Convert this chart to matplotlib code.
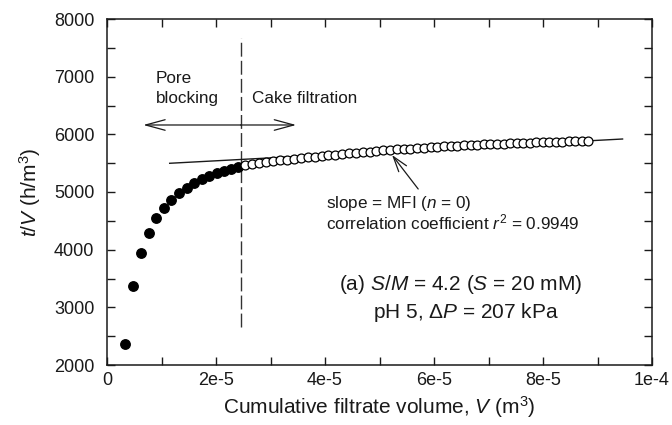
import matplotlib
matplotlib.use("Agg")
import matplotlib.pyplot as plt
from matplotlib.ticker import MultipleLocator, FixedLocator, FixedFormatter

plt.rcParams['font.family'] = ['Liberation Sans', 'DejaVu Sans']
plt.rcParams['mathtext.fontset'] = 'custom'
plt.rcParams['mathtext.rm'] = 'Liberation Sans'
plt.rcParams['mathtext.it'] = 'Liberation Sans:italic'

# Pore blocking region (filled circles), V in 1e-6 m3
pore_v = [3.3, 4.83, 6.18, 7.63, 9.05, 10.46, 11.8, 13.27, 14.6, 16.0,
          17.36, 18.7, 20.1, 21.5, 22.8, 24.1]
pore_tv = [2359, 3370, 3937, 4294, 4549, 4728, 4861, 4978, 5075, 5156,
           5220, 5278, 5324, 5364, 5399, 5439]

# Cake filtration region (open circles)
cake_v = [25.30, 26.59, 27.88, 29.16, 30.45, 31.73, 33.01, 34.28, 35.56, 36.83,
          38.10, 39.37, 40.63, 41.90, 43.16, 44.42, 45.68, 46.93, 48.18, 49.43,
          50.68, 51.93, 53.17, 54.41, 55.65, 56.89, 58.13, 59.36, 60.59, 61.82,
          63.04, 64.27, 65.49, 66.71, 67.93, 69.14, 70.35, 71.56, 72.77, 73.98,
          75.18, 76.39, 77.59, 78.78, 79.98, 81.17, 82.36, 83.55, 84.74, 85.92,
          87.11, 88.29]
cake_tv = [5465, 5485, 5502, 5518, 5533, 5548, 5562, 5575, 5588, 5600,
           5612, 5624, 5636, 5647, 5658, 5669, 5680, 5690, 5700, 5710,
           5720, 5729, 5737, 5746, 5754, 5762, 5769, 5777, 5784, 5790,
           5796, 5802, 5808, 5813, 5819, 5824, 5829, 5834, 5839, 5844,
           5848, 5852, 5856, 5860, 5865, 5868, 5872, 5875, 5879, 5882,
           5885, 5888]

# Linear fit (MFI) line
fit_v = [11.5, 94.6]
fit_tv = [5498, 5919]

# Transition between regimes
transition_v = 24.5

xtick_vals = [0, 2e-5, 4e-5, 6e-5, 8e-5, 1e-4]
xtick_labels = ["0", "2e-5", "4e-5", "6e-5", "8e-5", "1e-4"]
ytick_vals = [2000, 3000, 4000, 5000, 6000, 7000, 8000]

scale = 1e-6
ink = "#1a1a1a"

fig = plt.figure(figsize=(6.72, 4.25), dpi=100)
ax = fig.add_axes([107/672, 1-365/425, (652-107)/672, (365-19)/425])

ax.plot([v*scale for v in fit_v], fit_tv, color=ink, lw=1.0, zorder=2)
ax.plot([v*scale for v in pore_v], pore_tv, 'o', ms=6.8, color='black',
        mec='black', zorder=3)
ax.plot([v*scale for v in cake_v], cake_tv, 'o', ms=6.4, mfc='white',
        mec='black', mew=0.9, zorder=3)

ax.plot([transition_v*scale]*2, [2660, 7670], color='#333333', lw=1.0,
        dashes=(10, 3), zorder=1)

head = '->,head_length=1.4,head_width=0.38'
arrow_kw = dict(arrowstyle=head, color=ink, lw=0.9, mutation_scale=10,
                shrinkA=0, shrinkB=0)
ax.annotate('', xy=(6.66e-6, 6162), xytext=(transition_v*scale, 6162),
            arrowprops=arrow_kw)
ax.annotate('', xy=(34.7e-6, 6162), xytext=(transition_v*scale, 6162),
            arrowprops=arrow_kw)

ax.text(9.0e-6, 6960, "Pore", fontsize=12.3, color=ink, va='center', ha='left')
ax.text(9.0e-6, 6630, "blocking", fontsize=12.3, color=ink, va='center', ha='left')
ax.text(26.55e-6, 6630, "Cake filtration", fontsize=12.3, color=ink,
        va='center', ha='left')

ax.annotate('', xy=(52.3e-6, 5642), xytext=(57.1e-6, 5052),
            arrowprops=dict(arrowstyle='->,head_length=1.1,head_width=0.35',
                            color=ink, lw=0.9, mutation_scale=10,
                            shrinkA=0, shrinkB=0))
ax.text(40.2e-6, 4809, "slope = MFI ($n$ = 0)", fontsize=12.3, color=ink,
        va='center', ha='left')
ax.text(40.2e-6, 4480, "correlation coefficient $r^2$ = 0.9949", fontsize=12.3,
        color=ink, va='center', ha='left')

ax.text(64.8e-6, 3388, "(a) $S$/$M$ = 4.2 ($S$ = 20 mM)", fontsize=15,
        color=ink, va='center', ha='center')
ax.text(65.9e-6, 2902, "pH 5, Δ$P$ = 207 kPa", fontsize=15,
        color=ink, va='center', ha='center')

ax.set_xlim(0, 1e-4)
ax.set_ylim(2000, 8000)
ax.xaxis.set_major_locator(FixedLocator(xtick_vals))
ax.xaxis.set_major_formatter(FixedFormatter(xtick_labels))
ax.xaxis.set_minor_locator(MultipleLocator(1e-5))
ax.yaxis.set_major_locator(FixedLocator(ytick_vals))
ax.yaxis.set_minor_locator(MultipleLocator(500))

ax.tick_params(which='both', direction='in', top=True, right=True,
               length=5.5, width=1.0, color=ink, labelcolor=ink, labelsize=13)
ax.tick_params(axis='x', pad=5)
ax.tick_params(axis='y', pad=9)
for s in ax.spines.values():
    s.set_linewidth(1.1)
    s.set_color(ink)

ax.set_xlabel("Cumulative filtrate volume, $V$ (m$^3$)", fontsize=15, color=ink,
              labelpad=4)
ax.set_ylabel("$t$/$V$ (h/m$^3$)", fontsize=15, color=ink, labelpad=8)

fig.savefig("out.png", dpi=100)
